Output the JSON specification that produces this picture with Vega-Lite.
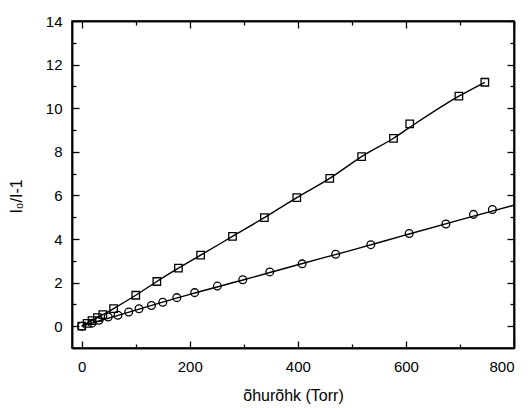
{
  "$schema": "https://vega.github.io/schema/vega-lite/v6.json",
  "width": 442,
  "height": 327,
  "autosize": "none",
  "padding": {"left": 72, "top": 21, "right": 16, "bottom": 60},
  "config": {
    "view": {"stroke": "black", "strokeWidth": 1.5},
    "axis": {
      "labelFont": "Liberation Sans",
      "titleFont": "Liberation Sans",
      "labelFontSize": 15,
      "titleFontSize": 16,
      "titleFontWeight": "normal",
      "labelColor": "black",
      "titleColor": "black",
      "gridOpacity": 0,
      "domainColor": "black",
      "domainWidth": 1.5,
      "tickColor": "black",
      "tickWidth": 1.3
    }
  },
  "datasets": {
    "squares": [
      {"p": 0, "r": 0.0},
      {"p": 10, "r": 0.13},
      {"p": 19, "r": 0.26},
      {"p": 29, "r": 0.39},
      {"p": 39, "r": 0.53},
      {"p": 59, "r": 0.81},
      {"p": 100, "r": 1.42},
      {"p": 139, "r": 2.05},
      {"p": 179, "r": 2.66},
      {"p": 220, "r": 3.26},
      {"p": 279, "r": 4.12},
      {"p": 338, "r": 4.98},
      {"p": 398, "r": 5.9},
      {"p": 459, "r": 6.78},
      {"p": 518, "r": 7.78},
      {"p": 577, "r": 8.62},
      {"p": 607, "r": 9.28},
      {"p": 698, "r": 10.55},
      {"p": 746, "r": 11.19}
    ],
    "squareFit": [
      {"p": 0, "r": 0.0},
      {"p": 39, "r": 0.53},
      {"p": 59, "r": 0.81},
      {"p": 100, "r": 1.42},
      {"p": 139, "r": 2.05},
      {"p": 179, "r": 2.66},
      {"p": 220, "r": 3.26},
      {"p": 279, "r": 4.12},
      {"p": 338, "r": 4.98},
      {"p": 398, "r": 5.9},
      {"p": 459, "r": 6.78},
      {"p": 518, "r": 7.78},
      {"p": 577, "r": 8.62},
      {"p": 607, "r": 9.12},
      {"p": 698, "r": 10.55},
      {"p": 746, "r": 11.19}
    ],
    "circles": [
      {"p": 0, "r": 0.0},
      {"p": 19, "r": 0.14},
      {"p": 32, "r": 0.27},
      {"p": 49, "r": 0.42},
      {"p": 67, "r": 0.5},
      {"p": 87, "r": 0.65},
      {"p": 106, "r": 0.8},
      {"p": 129, "r": 0.95},
      {"p": 150, "r": 1.1},
      {"p": 176, "r": 1.31},
      {"p": 209, "r": 1.54},
      {"p": 251, "r": 1.84},
      {"p": 298, "r": 2.13},
      {"p": 348, "r": 2.49},
      {"p": 408, "r": 2.86},
      {"p": 470, "r": 3.3},
      {"p": 535, "r": 3.74},
      {"p": 606, "r": 4.25},
      {"p": 674, "r": 4.69},
      {"p": 725, "r": 5.13},
      {"p": 760, "r": 5.35}
    ],
    "circleFit": [
      {"p": 0, "r": 0.0},
      {"p": 100, "r": 0.74},
      {"p": 200, "r": 1.46},
      {"p": 300, "r": 2.13},
      {"p": 400, "r": 2.82},
      {"p": 500, "r": 3.49},
      {"p": 600, "r": 4.19},
      {"p": 700, "r": 4.88},
      {"p": 800, "r": 5.55}
    ]
  },
  "layer": [
    {
      "data": {"name": "circleFit"},
      "mark": {"type": "line", "color": "black", "strokeWidth": 1.4, "interpolate": "monotone"},
      "encoding": {
        "x": {
          "field": "p", "type": "quantitative",
          "scale": {"domain": [-18, 800], "nice": false, "zero": false},
          "axis": {"orient": "bottom", "values": [0, 200, 400, 600, 800], "tickSize": -7, "labelPadding": 18, "title": "õhurõhk (Torr)", "titlePadding": 13}
        },
        "y": {
          "field": "r", "type": "quantitative",
          "scale": {"domain": [-1, 14], "nice": false, "zero": false},
          "axis": {"orient": "left", "values": [0, 2, 4, 6, 8, 10, 12, 14], "tickSize": -7, "labelPadding": 17, "title": "I₀/I-1", "titleX": -56, "titleY": 175, "titleAngle": -90, "titleAnchor": "middle", "titleAlign": "center", "titleBaseline": "middle"}
        }
      }
    },
    {
      "data": {"name": "squareFit"},
      "mark": {"type": "line", "color": "black", "strokeWidth": 1.4, "interpolate": "monotone"},
      "encoding": {
        "x": {
          "field": "p", "type": "quantitative",
          "axis": {"orient": "bottom", "values": [100, 300, 500, 700], "tickSize": -4, "labels": false, "title": null}
        },
        "y": {
          "field": "r", "type": "quantitative",
          "axis": {"orient": "left", "values": [1, 3, 5, 7, 9, 11, 13], "tickSize": -4, "labels": false, "title": null}
        }
      }
    },
    {
      "data": {"name": "squares"},
      "mark": {"type": "point", "shape": "square", "size": 56, "stroke": "black", "strokeWidth": 1.3, "filled": false, "opacity": 1},
      "encoding": {
        "x": {
          "field": "p", "type": "quantitative",
          "axis": {"orient": "top", "values": [0, 200, 400, 600, 800], "tickSize": -7, "labels": false, "title": null}
        },
        "y": {
          "field": "r", "type": "quantitative",
          "axis": {"orient": "right", "values": [0, 2, 4, 6, 8, 10, 12, 14], "tickSize": -7, "labels": false, "title": null}
        }
      }
    },
    {
      "data": {"name": "circles"},
      "mark": {"type": "point", "shape": "circle", "size": 60, "stroke": "black", "strokeWidth": 1.3, "filled": false, "opacity": 1},
      "encoding": {
        "x": {
          "field": "p", "type": "quantitative",
          "axis": {"orient": "top", "values": [100, 300, 500, 700], "tickSize": -4, "labels": false, "title": null}
        },
        "y": {
          "field": "r", "type": "quantitative",
          "axis": {"orient": "right", "values": [1, 3, 5, 7, 9, 11, 13], "tickSize": -4, "labels": false, "title": null}
        }
      }
    }
  ],
  "resolve": {"axis": {"x": "independent", "y": "independent"}}
}
